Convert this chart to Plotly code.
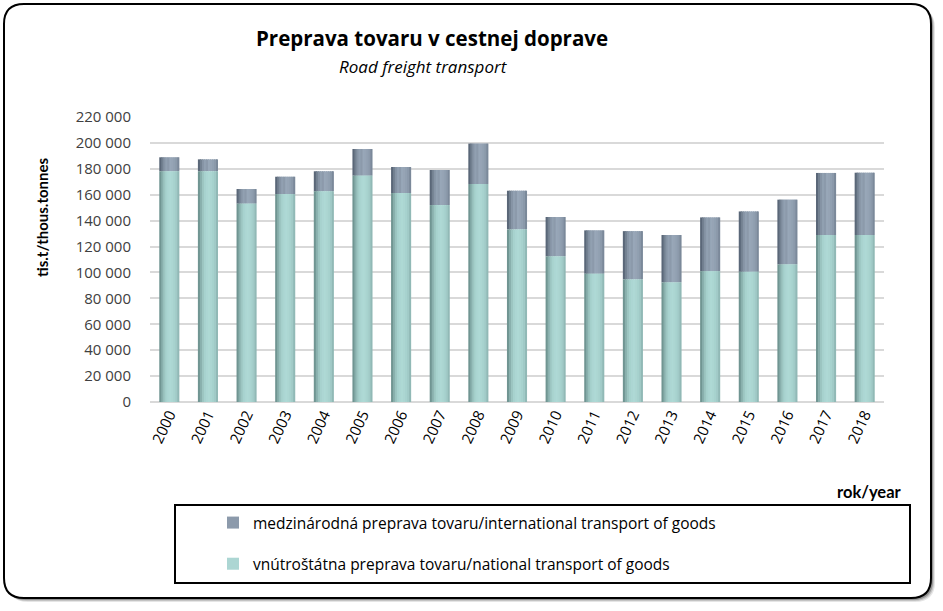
import plotly.graph_objects as go

years = [str(y) for y in range(2000, 2019)]
national = [178100, 178100, 153100, 160500, 162600, 174700, 161300, 152000, 168300, 133200,
            112400, 99000, 94600, 92300, 101000, 100500, 106200, 128900, 128900]
total = [188900, 187300, 164400, 173900, 178100, 195300, 181400, 179100, 199500, 163100,
         142800, 132500, 131900, 128900, 142500, 147100, 156200, 176800, 177000]
international = [t - n for t, n in zip(total, national)]

name_int = "medzinárodná preprava tovaru/international transport of goods"
name_nat = "vnútroštátna preprava tovaru/national transport of goods"

W, H = 943, 611
PX0, PX1, PY0, PY1 = 150, 884, 117, 402  # plot area in page pixels
L, T = PX0, PY0
R, B = W - PX1, H - PY1
PW, PH = W - L - R, H - T - B
FONT = "Open Sans"
FONT2 = "Lato"


def pp(x, y):
    return (x - L) / PW, (H - B - y) / PH


def rrect(x0, y0, x1, y1, r):
    def P(x, y):
        a, b = pp(x, y)
        return f"{a:.5f},{b:.5f}"
    return (f"M {P(x0 + r, y0)} L {P(x1 - r, y0)} Q {P(x1, y0)} {P(x1, y0 + r)} "
            f"L {P(x1, y1 - r)} Q {P(x1, y1)} {P(x1 - r, y1)} L {P(x0 + r, y1)} "
            f"Q {P(x0, y1)} {P(x0, y1 - r)} L {P(x0, y0 + r)} Q {P(x0, y0)} {P(x0 + r, y0)} Z")


def lerp(c0, c1, t):
    return "rgb(%d,%d,%d)" % tuple(round(a + (b - a) * t) for a, b in zip(c0, c1))


profile = [0.25, 0.55, 0.78, 0.92, 1.0, 1.0, 0.97, 0.92, 0.84, 0.65]
BW = 0.52
n = len(profile)
sw = BW / n

fig = go.Figure()
series = [
    ("int", name_int, international, national, (70, 82, 98), (152, 167, 184), "#8c9aab"),
    ("nat", name_nat, national, None, (92, 126, 124), (174, 217, 213), "#acd6d3"),
]
for key, name, vals, base, dark, light, legc in series:
    for i, t in enumerate(profile):
        col = lerp(dark, light, t)
        show = (i == 4)
        fig.add_trace(go.Bar(
            x=years, y=vals, base=base if base is not None else [0] * len(vals),
            width=sw * (1.6 if i < n - 1 else 1.0), offset=-BW / 2 + i * sw,
            marker=dict(color=legc if show else col, line=dict(width=0)),
            name=name, legendgroup=key, showlegend=show,
            hoverinfo="skip",
        ))

shapes = []
for d, c in [(4, "rgba(0,0,0,0.10)"), (3, "rgba(0,0,0,0.15)"), (2, "rgba(0,0,0,0.25)")]:
    shapes.append(dict(type="path", xref="paper", yref="paper", layer="below",
                       path=rrect(4 + d, 4 + d, 931 + d, 598 + d, 20),
                       line=dict(width=0), fillcolor=c))
shapes.append(dict(type="path", xref="paper", yref="paper", layer="below",
                   path=rrect(4, 4, 931, 598, 20),
                   line=dict(color="black", width=2), fillcolor="white"))
x0, y0 = pp(175, 505)
x1, y1 = pp(910, 583)
shapes.append(dict(type="rect", xref="paper", yref="paper", x0=x0, y0=y0, x1=x1, y1=y1,
                   line=dict(color="black", width=2), fillcolor="rgba(0,0,0,0)"))

ann = []
ax, ay = pp(432, 38)
ann.append(dict(text="<b>Preprava tovaru v cestnej doprave</b>", x=ax, y=ay, xref="paper", yref="paper",
                showarrow=False, font=dict(size=20.5, color="black", family=FONT), xanchor="center", yanchor="middle"))
ax, ay = pp(423, 66)
ann.append(dict(text="<i>Road freight transport</i>", x=ax, y=ay, xref="paper", yref="paper",
                showarrow=False, font=dict(size=17, color="black", family=FONT), xanchor="center", yanchor="middle"))
ax, ay = pp(42, 218)
ann.append(dict(text="<b>tis.t/thous.tonnes</b>", x=ax, y=ay, xref="paper", yref="paper", textangle=-90,
                showarrow=False, font=dict(size=15, color="black", family=FONT2), xanchor="center", yanchor="middle"))
ax, ay = pp(869, 492)
ann.append(dict(text="<b>rok/year</b>", x=ax, y=ay, xref="paper", yref="paper",
                showarrow=False, font=dict(size=16.5, color="black", family=FONT2), xanchor="center", yanchor="middle"))

lx, ly = pp(213, 506)

fig.update_layout(
    width=W, height=H, margin=dict(l=L, r=R, t=T, b=B, autoexpand=False),
    paper_bgcolor="white", plot_bgcolor="rgba(0,0,0,0)",
    barmode="overlay", separators=", ",
    font=dict(family=FONT, size=15, color="#404040"),
    shapes=shapes, annotations=ann,
    showlegend=True,
    legend=dict(x=lx, y=ly, xanchor="left", yanchor="top", orientation="v",
                traceorder="grouped", tracegroupgap=18, bgcolor="rgba(0,0,0,0)",
                font=dict(size=15.5, color="black", family=FONT)),
    xaxis=dict(type="category", tickangle=-65, showgrid=False, ticks="", showline=False,
               tickfont=dict(size=15, color="black", family=FONT)),
    yaxis=dict(range=[0, 220000], dtick=20000, tickformat=",d", showgrid=True,
               gridcolor="#d9d9d9", gridwidth=1.5, zeroline=True, zerolinecolor="#d9d9d9",
               zerolinewidth=1.5, ticks="", ticklabelstandoff=18, showline=False,
               tickfont=dict(size=15, color="#404040", family=FONT)),
)

fig.write_html("out.html", config={"displayModeBar": False},
               post_script="document.body.style.margin='0';")
